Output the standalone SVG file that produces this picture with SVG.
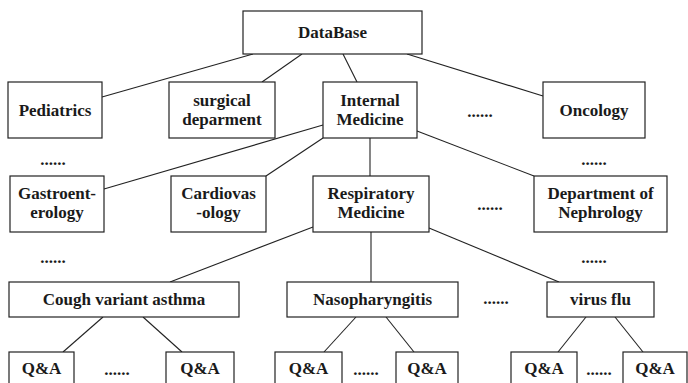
<svg xmlns="http://www.w3.org/2000/svg" width="688" height="383" viewBox="0 0 688 383">
<style>
rect{fill:#fff;stroke:#222;stroke-width:1.2}
text{font-family:"Liberation Serif","Times New Roman",serif;font-weight:bold;font-size:17px;fill:#1a1a1a;text-anchor:middle}
.c line{stroke:#222;stroke-width:1.1}
.d{font-size:17px}
</style>
<rect x="0" y="0" width="688" height="383" style="fill:#fff;stroke:none"/>
<g class="c" id="connectors">
<line x1="253" y1="54" x2="102" y2="97"/>
<line x1="302" y1="54" x2="262" y2="82"/>
<line x1="343" y1="54" x2="357" y2="82"/>
<line x1="407" y1="54" x2="543" y2="96"/>
<line x1="323" y1="125" x2="104" y2="189"/>
<line x1="323" y1="138" x2="266" y2="176"/>
<line x1="370" y1="138" x2="370" y2="176"/>
<line x1="417" y1="131" x2="534" y2="176"/>
<line x1="313" y1="227" x2="170" y2="282"/>
<line x1="371" y1="232" x2="371" y2="282"/>
<line x1="429" y1="228" x2="559" y2="282"/>
<line x1="103" y1="317" x2="63" y2="352"/>
<line x1="143" y1="317" x2="182" y2="352"/>
<line x1="356" y1="317" x2="324" y2="352"/>
<line x1="386" y1="317" x2="414" y2="352"/>
<line x1="586" y1="317" x2="558" y2="352"/>
<line x1="615" y1="317" x2="643" y2="352"/>
</g>
<g id="database"><rect x="243" y="11" width="179" height="43"/><text x="332.5" y="38">DataBase</text></g>
<g id="pediatrics"><rect x="8" y="82" width="94" height="56"/><text x="55" y="116">Pediatrics</text></g>
<g id="surgical"><rect x="169" y="82" width="106" height="56"/><text x="222" y="106">surgical</text><text x="222" y="125">deparment</text></g>
<g id="internal"><rect x="323" y="82" width="94" height="56"/><text x="370" y="106">Internal</text><text x="370" y="125">Medicine</text></g>
<g id="oncology"><rect x="543" y="82" width="102" height="56"/><text x="594" y="116">Oncology</text></g>
<g id="gastro"><rect x="10" y="176" width="94" height="56"/><text x="57" y="199">Gastroent-</text><text x="57" y="218">erology</text></g>
<g id="cardio"><rect x="171" y="176" width="95" height="56"/><text x="218.5" y="199">Cardiovas</text><text x="218.5" y="218">-ology</text></g>
<g id="respiratory"><rect x="313" y="176" width="116" height="56"/><text x="371" y="199">Respiratory</text><text x="371" y="218">Medicine</text></g>
<g id="nephrology"><rect x="534" y="176" width="133" height="56"/><text x="600.5" y="199">Department of</text><text x="600.5" y="218">Nephrology</text></g>
<g id="cough"><rect x="9" y="282" width="230" height="35"/><text x="124" y="305">Cough variant asthma</text></g>
<g id="naso"><rect x="287" y="282" width="171" height="35"/><text x="372.5" y="305">Nasopharyngitis</text></g>
<g id="flu"><rect x="547" y="282" width="107" height="35"/><text x="600.5" y="305">virus flu</text></g>
<g id="qa1"><rect x="9" y="352" width="65" height="40"/><text x="41.5" y="374">Q&amp;A</text></g>
<g id="qa2"><rect x="166" y="352" width="68" height="40"/><text x="200" y="374">Q&amp;A</text></g>
<g id="qa3"><rect x="275" y="352" width="67" height="40"/><text x="308.5" y="374">Q&amp;A</text></g>
<g id="qa4"><rect x="396" y="352" width="62" height="40"/><text x="427" y="374">Q&amp;A</text></g>
<g id="qa5"><rect x="511" y="352" width="66" height="40"/><text x="544" y="374">Q&amp;A</text></g>
<g id="qa6"><rect x="623" y="352" width="64" height="40"/><text x="655" y="374">Q&amp;A</text></g>
<g id="ellipses">
<text class="d" x="480" y="117">......</text>
<text class="d" x="53" y="165">......</text>
<text class="d" x="594" y="165">......</text>
<text class="d" x="490" y="210">......</text>
<text class="d" x="53" y="263">......</text>
<text class="d" x="594" y="263">......</text>
<text class="d" x="496" y="304">......</text>
<text class="d" x="117" y="375">......</text>
<text class="d" x="366" y="375">......</text>
<text class="d" x="599" y="375">......</text>
</g>
</svg>
